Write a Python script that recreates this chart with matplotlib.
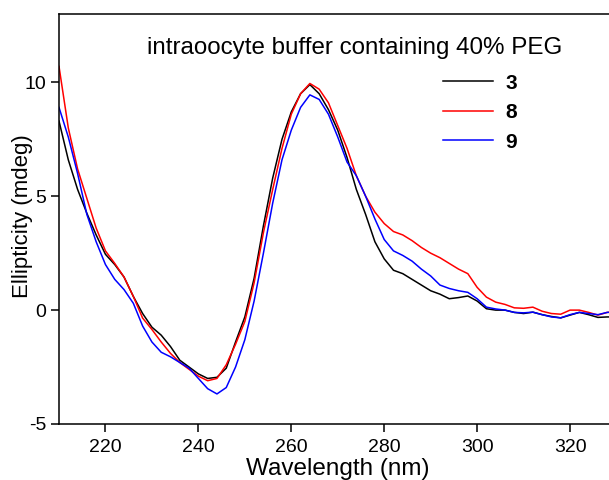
import matplotlib
matplotlib.use('Agg')
import matplotlib.pyplot as plt
import numpy as np

plt.rcParams['font.family'] = ['Liberation Sans', 'DejaVu Sans']
plt.rcParams['axes.unicode_minus'] = False

# CD spectra (2 nm steps)
wavelength = np.arange(210, 332, 2)

ell_3 = [8.3, 6.6, 5.3, 4.25, 3.3, 2.45, 2.0, 1.45, 0.6, -0.15,
         -0.75, -1.1, -1.6, -2.2, -2.5, -2.8, -3.0, -2.95, -2.55, -1.4,
         -0.3, 1.4, 3.7, 5.8, 7.5, 8.7, 9.5, 9.9, 9.5, 8.8,
         7.9, 6.7, 5.3, 4.2, 3.0, 2.25, 1.75, 1.6, 1.35, 1.1,
         0.85, 0.7, 0.5, 0.55, 0.62, 0.4, 0.06, 0.0, 0.0, -0.1,
         -0.15, -0.09, -0.2, -0.28, -0.34, -0.22, -0.1, -0.2, -0.32, -0.3,
         -0.3]
ell_8 = [10.7, 8.0, 6.2, 4.9, 3.6, 2.6, 2.05, 1.45, 0.6, -0.35,
         -0.85, -1.4, -1.9, -2.3, -2.6, -2.9, -3.1, -3.0, -2.4, -1.5,
         -0.5, 1.2, 3.4, 5.3, 7.1, 8.6, 9.5, 9.95, 9.7, 9.1,
         8.1, 7.1, 5.9, 5.0, 4.3, 3.8, 3.45, 3.3, 3.05, 2.75,
         2.5, 2.3, 2.05, 1.8, 1.6, 1.0, 0.57, 0.35, 0.25, 0.1,
         0.08, 0.13, -0.05, -0.15, -0.18, 0.0, 0.0, -0.1, -0.22, -0.1,
         -0.05]
ell_9 = [8.9, 7.6, 6.0, 4.2, 3.0, 2.0, 1.35, 0.9, 0.3, -0.7,
         -1.4, -1.85, -2.05, -2.3, -2.55, -3.0, -3.45, -3.68, -3.4, -2.5,
         -1.3, 0.4, 2.5, 4.7, 6.6, 7.9, 8.9, 9.45, 9.25, 8.6,
         7.6, 6.5, 5.9, 5.0, 4.0, 3.1, 2.6, 2.4, 2.15, 1.8,
         1.5, 1.1, 0.95, 0.85, 0.78, 0.5, 0.13, 0.05, 0.0, -0.1,
         -0.12, -0.09, -0.2, -0.3, -0.34, -0.2, -0.1, -0.15, -0.2, -0.1,
         -0.1]

labels = ['3', '8', '9']
colors = ['black', '#ff0000', '#0000ff']

fig = plt.figure(figsize=(6.09, 4.80), dpi=100, facecolor='white')
ax = fig.add_axes([59 / 609, 56 / 480, 557.5 / 609, 410 / 480])

for y, lab, c in zip([ell_3, ell_8, ell_9], labels, colors):
    ax.plot(wavelength, y, color=c, lw=1.1, label=lab)

ax.set_xlim(210, 330)
ax.set_ylim(-5, 13)
ax.set_xticks([220, 240, 260, 280, 300, 320])
ax.set_yticks([-5, 0, 5, 10])

ax.spines['right'].set_visible(False)
for s in ['left', 'bottom', 'top']:
    ax.spines[s].set_linewidth(1.1)
ax.tick_params(direction='out', length=6, width=1.1, labelsize=14, pad=3)
ax.tick_params(axis='x', pad=5)

ax.set_xlabel('Wavelength (nm)', fontsize=17.5)
ax.xaxis.set_label_coords(0.5, -0.083)
ax.set_ylabel('Ellipticity (mdeg)', fontsize=16)
ax.yaxis.set_label_coords(-0.047, 0.507)

ax.text(0.53, 0.917, 'intraoocyte buffer containing 40% PEG', transform=ax.transAxes,
        ha='center', va='center', fontsize=17.4)

leg = ax.legend(loc='upper left', bbox_to_anchor=(0.655, 0.9), frameon=False,
                handlelength=2.4, handletextpad=0.6, labelspacing=0.5,
                prop={'weight': 'bold', 'size': 15})

fig.savefig('out.png', dpi=100)
